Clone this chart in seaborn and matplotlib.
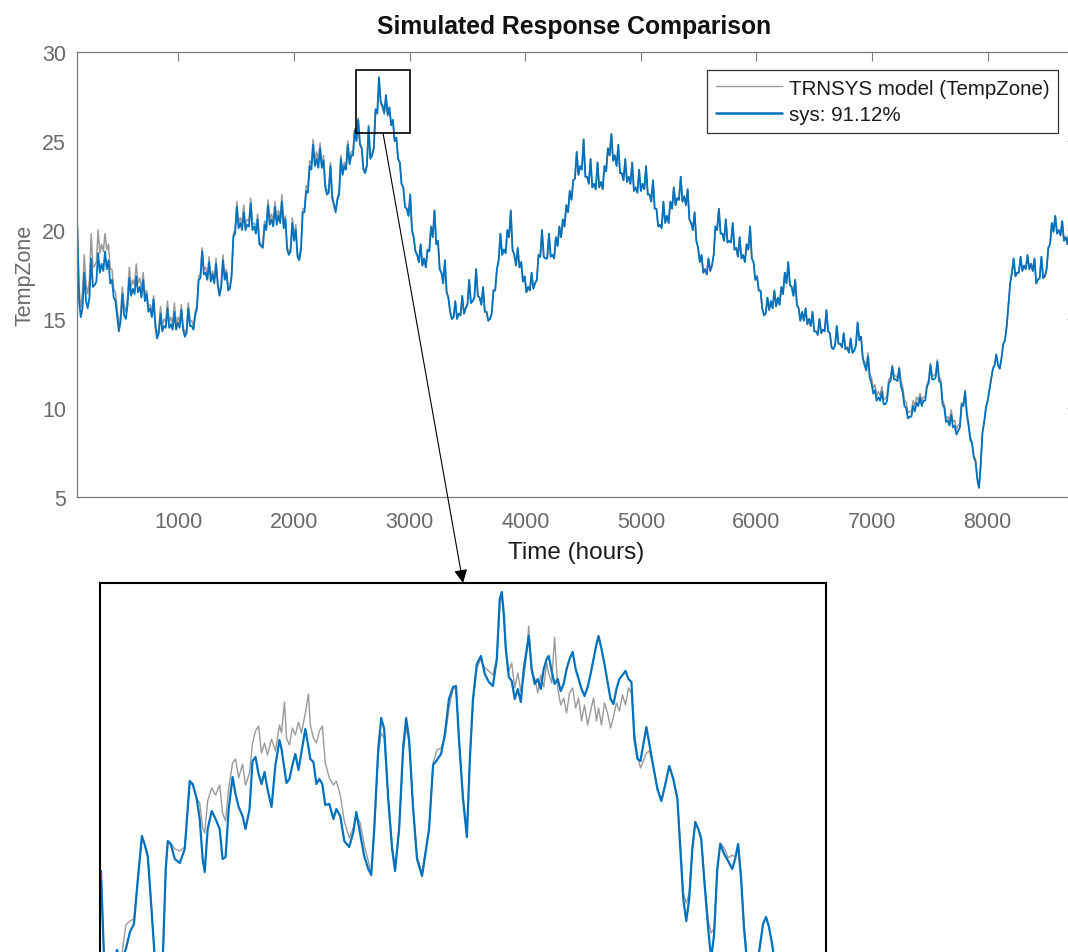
import numpy as np
import pandas as pd
import matplotlib
matplotlib.use("Agg")
import matplotlib.pyplot as plt
from matplotlib.patches import Rectangle
import seaborn as sns

# ---------------------------------------------------------------------------
# Zone temperature over the year, one sample every 15 h starting at hour 125
# (20 samples = 300 h per row)
# ---------------------------------------------------------------------------
START_HOUR = 125
STEP_HOURS = 15

sys_temp = [
    20.2, 16.0, 15.1, 15.6, 17.6, 16.0, 15.6, 16.2, 18.4, 16.8, 16.9, 17.1, 18.7, 17.6, 18.1, 17.7, 18.8, 17.8, 18.3, 17.0,
    17.2, 16.2, 16.0, 15.1, 14.3, 14.9, 16.4, 15.2, 15.0, 15.8, 17.3, 16.3, 16.7, 16.4, 17.4, 16.5, 16.8, 16.2, 17.2, 16.0,
    16.4, 15.4, 15.6, 15.1, 16.1, 14.6, 13.9, 14.2, 15.3, 14.3, 14.6, 14.5, 15.6, 14.5, 14.7, 14.4, 15.4, 14.4, 14.8, 14.5,
    15.5, 14.4, 14.0, 14.2, 15.6, 14.6, 14.6, 14.4, 15.2, 15.6, 17.2, 17.3, 18.8, 17.5, 17.6, 17.2, 18.2, 17.1, 17.5, 17.0,
    18.1, 16.9, 16.3, 16.8, 18.3, 17.2, 17.6, 16.6, 16.7, 17.4, 19.6, 19.8, 21.3, 20.1, 20.4, 20.0, 21.0, 20.0, 20.3, 20.2,
    21.5, 20.0, 20.2, 19.8, 20.6, 19.2, 19.1, 19.0, 20.3, 20.0, 21.4, 20.3, 20.6, 20.2, 21.3, 20.3, 20.8, 20.4, 21.6, 20.1,
    20.6, 18.9, 18.6, 18.8, 20.4, 19.4, 20.0, 18.5, 18.3, 18.9, 21.0, 21.0, 22.2, 22.1, 23.6, 23.4, 24.8, 23.6, 24.0, 23.5,
    24.6, 23.5, 23.9, 22.4, 22.0, 22.1, 23.6, 21.8, 21.4, 21.0, 21.7, 22.0, 24.0, 23.1, 23.6, 23.4, 24.8, 23.7, 24.2, 24.2,
    25.6, 25.0, 26.2, 24.8, 24.6, 23.4, 23.2, 23.6, 25.8, 24.0, 24.2, 24.6, 26.8, 26.6, 28.6, 27.2, 27.0, 26.6, 27.6, 26.5,
    26.9, 25.9, 26.2, 25.0, 25.2, 24.0, 23.8, 22.6, 22.4, 21.3, 21.2, 20.8, 22.0, 20.0, 19.6, 18.8, 18.6, 18.2, 19.2, 18.0,
    18.4, 17.9, 18.9, 18.8, 20.2, 19.6, 21.1, 19.2, 19.4, 17.8, 17.6, 17.0, 18.3, 16.5, 16.2, 15.4, 15.0, 15.1, 16.0, 15.0,
    15.3, 15.2, 16.3, 15.3, 15.6, 15.8, 17.2, 15.9, 16.0, 16.2, 17.8, 16.3, 16.2, 15.8, 16.8, 15.4, 15.4, 14.9, 15.0, 15.3,
    16.6, 16.6, 17.8, 18.3, 19.8, 18.6, 18.9, 18.7, 20.0, 19.6, 21.1, 18.9, 18.6, 18.0, 19.0, 17.9, 18.2, 17.1, 17.4, 16.5,
    16.8, 16.6, 17.6, 16.7, 17.0, 17.2, 18.6, 18.5, 20.0, 18.5, 18.4, 18.4, 19.8, 18.5, 18.6, 18.4, 19.6, 19.1, 20.2, 19.6,
    20.6, 20.2, 21.4, 21.0, 22.2, 21.7, 22.8, 22.9, 24.4, 23.1, 23.6, 23.4, 25.1, 23.0, 23.0, 22.6, 24.0, 22.4, 22.6, 22.3,
    23.8, 22.4, 22.7, 22.3, 23.6, 23.3, 24.6, 24.2, 25.4, 23.9, 24.2, 23.6, 24.8, 23.2, 23.2, 22.8, 24.0, 22.7, 23.0, 22.6,
    23.8, 22.2, 22.4, 22.1, 23.4, 22.2, 22.6, 22.3, 23.6, 22.0, 22.0, 21.6, 22.8, 21.2, 21.2, 20.2, 20.3, 20.1, 21.6, 20.4,
    20.8, 20.4, 21.6, 21.2, 22.4, 21.4, 21.8, 21.7, 23.0, 21.6, 21.9, 21.4, 22.3, 20.6, 20.4, 20.0, 21.0, 19.4, 19.0, 18.2,
    18.6, 17.6, 17.8, 17.5, 18.4, 17.7, 18.0, 18.6, 20.2, 20.0, 21.2, 19.8, 19.8, 19.4, 20.6, 19.3, 19.4, 19.3, 20.4, 18.9,
    19.0, 18.5, 19.6, 18.4, 18.6, 18.2, 19.2, 18.9, 20.2, 18.4, 18.2, 17.2, 17.4, 16.6, 16.6, 15.6, 15.2, 15.3, 16.2, 15.5,
    16.0, 15.6, 16.6, 15.7, 16.2, 15.8, 16.8, 16.4, 17.6, 17.0, 18.2, 16.9, 16.8, 16.3, 17.2, 15.8, 15.6, 14.9, 15.4, 14.9,
    15.6, 14.7, 15.0, 14.6, 15.4, 14.3, 14.3, 14.1, 15.0, 14.2, 14.4, 14.3, 15.5, 14.3, 14.2, 13.4, 13.3, 13.5, 14.6, 13.6,
    13.6, 13.4, 14.2, 13.3, 13.4, 13.1, 13.9, 13.1, 13.2, 13.5, 14.8, 13.8, 14.0, 12.8, 12.4, 12.1, 12.9, 11.7, 11.4, 10.8,
    11.0, 10.4, 10.6, 10.4, 10.9, 10.2, 10.2, 10.4, 11.4, 11.5, 12.3, 11.6, 11.6, 11.5, 12.2, 11.2, 10.9, 10.1, 10.0, 9.4,
    9.5, 9.5, 10.1, 9.8, 10.3, 10.1, 10.6, 10.1, 10.4, 10.4, 11.2, 11.4, 12.4, 11.6, 11.6, 11.7, 12.6, 11.5, 11.4, 10.2,
    10.0, 9.2, 9.3, 9.0, 9.6, 8.9, 9.0, 8.5, 8.7, 8.9, 10.2, 10.1, 10.9, 9.6, 9.0, 8.2, 8.0, 7.2, 7.0, 6.0,
    5.5, 6.8, 8.6, 9.2, 10.0, 10.4, 11.0, 11.6, 12.2, 12.4, 13.0, 12.4, 12.2, 12.8, 13.6, 13.8, 14.6, 15.8, 17.0, 17.6,
    18.4, 17.4, 17.6, 17.6, 18.5, 17.7, 18.0, 17.8, 18.6, 17.8, 18.1, 17.7, 18.4, 17.0, 17.2, 17.3, 18.5, 17.3, 17.4, 17.8,
    19.0, 19.2, 20.4, 19.9, 20.8, 19.8, 20.0, 19.7, 20.5, 19.4, 19.6, 19.2, 19.9, 19.0, 19.2, 18.5, 18.6, 18.1, 18.4, 18.0,
]

# TRNSYS reference output: runs warmer during the first 2800 h and in late
# autumn; elsewhere it coincides with the identified model.
trnsys_spring = [
    20.4, 16.8, 15.6, 16.5, 18.6, 17.0, 16.4, 17.2, 19.8, 17.9, 18.0, 18.2, 20.0, 18.7, 19.2, 18.8, 19.8, 18.9, 19.2, 17.8,
    17.8, 16.7, 16.5, 15.6, 14.6, 15.3, 16.8, 15.7, 15.4, 16.3, 17.9, 16.8, 17.2, 16.9, 18.1, 17.0, 17.3, 16.7, 17.6, 16.3,
    16.6, 15.7, 15.8, 15.4, 16.3, 14.9, 14.0, 14.5, 15.7, 14.6, 15.0, 14.8, 16.0, 14.8, 15.1, 14.7, 15.9, 14.7, 15.1, 14.8,
    15.8, 14.6, 14.2, 14.4, 15.9, 14.9, 14.9, 14.6, 15.4, 15.8, 17.4, 17.5, 19.0, 17.8, 17.9, 17.4, 18.5, 17.3, 17.7, 17.2,
    18.4, 17.1, 16.4, 17.0, 18.6, 17.4, 17.8, 16.8, 16.8, 17.6, 19.8, 20.0, 21.6, 20.4, 20.7, 20.3, 21.4, 20.3, 20.6, 20.5,
    21.8, 20.3, 20.4, 20.1, 20.9, 19.4, 19.2, 19.2, 20.5, 20.3, 21.7, 20.6, 20.9, 20.5, 21.6, 20.6, 21.1, 20.7, 22.0, 20.4,
    20.8, 19.1, 18.7, 19.0, 20.7, 19.7, 20.3, 18.7, 18.4, 19.1, 21.2, 21.2, 22.5, 22.4, 23.9, 23.7, 25.1, 23.9, 24.4, 23.8,
    24.9, 23.7, 24.2, 22.6, 22.2, 22.3, 23.8, 22.0, 21.5, 21.2, 21.8, 22.2, 24.2, 23.3, 23.8, 23.6, 25.0, 23.9, 24.4, 24.4,
    25.7, 25.1, 26.3, 24.9, 24.7, 23.5, 23.3, 23.7, 25.9, 24.1, 24.3, 24.7, 26.7, 26.5, 28.4, 27.1, 26.9, 26.5, 27.4, 26.4,
]
trnsys_autumn = [
    13.6, 13.4, 14.2, 13.3, 13.4, 13.1, 13.9, 13.1, 13.2, 13.5, 14.8, 13.8, 14.0, 12.8, 12.6, 12.3, 13.1, 11.9, 11.7, 11.1,
    11.3, 10.7, 10.9, 10.7, 11.2, 10.5, 10.5, 10.7, 11.6, 11.7, 12.4, 11.8, 11.8, 11.7, 12.3, 11.5, 11.2, 10.4, 10.3, 9.7,
    9.8, 9.8, 10.4, 10.1, 10.6, 10.4, 10.8, 10.4, 10.6, 10.6, 11.3, 11.6, 12.5, 11.8, 11.8, 11.9, 12.7, 11.7, 11.6, 10.4,
    10.2, 9.4, 9.5, 9.3, 9.9, 9.2, 9.3, 8.8, 9.0, 9.1, 10.3, 10.2, 11.0, 9.8, 9.2, 8.4, 8.1, 7.3, 7.1, 6.1,
]
trnsys_temp = trnsys_spring + sys_temp[180:440] + trnsys_autumn + sys_temp[520:]

# ---------------------------------------------------------------------------
# Detailed view around the spring peak (hours 2537 - 3003)
# ---------------------------------------------------------------------------
zoom_hours = [
    2537.6, 2539.6, 2543.4, 2547.9, 2550.4, 2553.6, 2556.2, 2558.8, 2561.3, 2563.9,
    2565.8, 2567.7, 2569.6, 2572.2, 2575.4, 2577.3, 2579.2, 2580.5, 2582.4, 2585.0,
    2588.2, 2591.4, 2594.6, 2596.5, 2599.1, 2601.0, 2602.9, 2604.2, 2606.1, 2608.7,
    2611.2, 2613.8, 2615.7, 2617.6, 2619.6, 2622.1, 2624.0, 2626.0, 2628.5, 2630.4,
    2633.0, 2634.9, 2636.8, 2638.8, 2640.7, 2642.6, 2644.5, 2647.1, 2649.6, 2652.2,
    2653.5, 2655.4, 2656.7, 2658.6, 2660.5, 2662.4, 2664.4, 2666.3, 2668.8, 2670.8,
    2672.0, 2674.0, 2675.9, 2677.8, 2679.7, 2681.6, 2684.2, 2686.8, 2688.7, 2691.2,
    2693.8, 2697.0, 2699.6, 2701.5, 2704.0, 2706.6, 2709.2, 2711.1, 2713.0, 2715.6,
    2717.5, 2719.4, 2722.0, 2724.5, 2726.4, 2729.0, 2731.6, 2733.5, 2735.4, 2738.0,
    2740.5, 2743.7, 2746.3, 2748.2, 2750.8, 2753.3, 2755.9, 2758.4, 2761.0, 2763.6,
    2765.5, 2767.4, 2770.0, 2772.5, 2774.4, 2776.4, 2778.9, 2781.5, 2784.0, 2786.6,
    2789.2, 2791.7, 2793.6, 2794.9, 2796.2, 2797.5, 2799.4, 2801.3, 2803.2, 2805.2,
    2807.1, 2809.0, 2810.9, 2812.2, 2814.1, 2816.0, 2818.0, 2819.9, 2821.8, 2823.7,
    2825.0, 2826.9, 2828.8, 2830.8, 2832.7, 2834.6, 2836.5, 2838.4, 2840.4, 2842.3,
    2844.2, 2846.1, 2848.0, 2850.0, 2851.9, 2853.8, 2855.7, 2857.0, 2858.9, 2860.8,
    2862.8, 2864.7, 2866.6, 2868.5, 2870.4, 2872.4, 2874.3, 2876.2, 2878.1, 2880.0,
    2882.0, 2883.9, 2885.8, 2887.7, 2889.6, 2892.2, 2894.8, 2897.3, 2899.9, 2902.4,
    2905.0, 2907.6, 2909.5, 2911.4, 2913.3, 2915.2, 2917.2, 2919.1, 2921.0, 2922.9,
    2924.8, 2927.4, 2929.3, 2931.2, 2933.2, 2935.1, 2937.6, 2940.2, 2942.8, 2944.7,
    2946.6, 2948.5, 2950.4, 2953.0, 2956.2, 2959.4, 2962.6, 2964.5, 2966.4, 2968.4,
    2970.3, 2973.5,
]

zoom_sys = [
    26.12, 25.24, 24.99, 25.33, 25.22, 25.34, 25.51, 25.59, 26.04, 26.47,
    26.38, 26.26, 25.84, 25.24, 24.94, 25.24, 26.14, 26.42, 26.39, 26.24,
    26.20, 26.34, 27.02, 26.99, 26.84, 26.64, 26.24, 26.11, 26.54, 26.72,
    26.64, 26.54, 26.24, 26.26, 26.74, 27.06, 26.89, 26.76, 26.67, 26.54,
    26.74, 27.22, 27.26, 27.09, 26.99, 27.11, 26.94, 26.76, 27.18, 27.43,
    27.34, 27.14, 27.00, 27.04, 27.18, 27.29, 27.13, 27.31, 27.54, 27.36,
    27.24, 27.21, 26.99, 27.04, 26.99, 26.78, 26.79, 26.64, 26.74, 26.67,
    26.42, 26.36, 26.51, 26.71, 26.49, 26.27, 26.14, 26.08, 26.54, 27.34,
    27.65, 27.54, 26.84, 26.34, 26.12, 26.54, 27.36, 27.65, 27.44, 26.74,
    26.24, 26.07, 26.34, 26.54, 27.18, 27.23, 27.29, 27.49, 27.84, 27.96,
    27.97, 27.44, 26.84, 26.46, 27.24, 27.84, 28.19, 28.27, 28.09, 28.01,
    27.97, 28.24, 28.84, 28.91, 28.69, 28.34, 28.06, 28.02, 27.84, 27.94,
    27.81, 28.14, 28.34, 28.47, 28.14, 27.99, 28.04, 27.94, 28.14, 28.24,
    28.27, 28.12, 27.99, 28.04, 27.92, 27.99, 28.14, 28.24, 28.31, 28.14,
    28.04, 27.94, 27.87, 27.96, 28.09, 28.24, 28.39, 28.47, 28.34, 28.19,
    28.01, 27.84, 27.79, 27.94, 28.04, 28.08, 28.12, 28.04, 28.01, 27.44,
    27.24, 27.22, 27.39, 27.56, 27.39, 27.16, 26.94, 26.82, 26.99, 27.17,
    27.04, 26.84, 26.34, 25.84, 25.62, 25.84, 26.34, 26.61, 26.54, 26.44,
    26.04, 25.54, 25.24, 25.49, 26.14, 26.39, 26.29, 26.22, 26.14, 26.24,
    26.39, 26.04, 25.54, 25.09, 24.94, 25.24, 25.59, 25.66, 25.56, 25.39,
    25.19, 24.99,
]

zoom_trnsys = [
    26.12, 25.24, 24.99, 25.33, 25.22, 25.58, 25.62, 25.64, 26.04, 26.45,
    26.38, 26.28, 25.86, 25.24, 24.94, 25.24, 26.12, 26.40, 26.40, 26.34,
    26.32, 26.36, 26.98, 26.99, 26.84, 26.80, 26.55, 26.50, 26.82, 26.95,
    26.88, 26.98, 26.70, 26.62, 26.95, 27.20, 27.24, 27.05, 27.19, 26.98,
    27.10, 27.40, 27.52, 27.57, 27.30, 27.40, 27.28, 27.44, 27.32, 27.58,
    27.50, 27.81, 27.45, 27.38, 27.55, 27.48, 27.61, 27.50, 27.70, 27.89,
    27.58, 27.45, 27.40, 27.52, 27.57, 27.20, 27.05, 26.98, 27.02, 26.88,
    26.62, 26.45, 26.55, 26.68, 26.60, 26.38, 26.22, 26.10, 26.50, 27.28,
    27.50, 27.45, 26.86, 26.38, 26.16, 26.54, 27.30, 27.55, 27.40, 26.76,
    26.26, 26.10, 26.34, 26.52, 27.20, 27.33, 27.35, 27.45, 27.75, 27.94,
    27.95, 27.46, 26.88, 26.52, 27.22, 27.80, 28.15, 28.24, 28.15, 28.12,
    28.08, 28.24, 28.80, 28.88, 28.65, 28.30, 28.12, 28.20, 27.95, 28.10,
    27.92, 28.05, 28.30, 28.57, 28.10, 28.05, 27.90, 28.08, 27.96, 28.20,
    28.10, 28.00, 28.46, 27.95, 27.78, 27.85, 27.70, 27.90, 27.95, 27.75,
    27.85, 27.62, 27.78, 27.58, 27.72, 27.85, 27.62, 27.75, 27.58, 27.80,
    27.70, 27.55, 27.66, 27.80, 27.72, 27.88, 27.78, 27.95, 27.90, 27.50,
    27.28, 27.15, 27.22, 27.30, 27.32, 27.17, 26.94, 26.82, 26.99, 27.17,
    27.04, 26.86, 26.40, 25.90, 25.80, 25.90, 26.36, 26.60, 26.54, 26.46,
    26.08, 25.62, 25.50, 25.55, 26.12, 26.40, 26.35, 26.25, 26.28, 26.26,
    26.39, 26.08, 25.58, 25.15, 24.96, 25.24, 25.59, 25.66, 25.56, 25.39,
    25.19, 24.99,
]

# Zoom window drawn on the yearly axes (hours, degC)
zoom_x = (2537, 3003)
zoom_y = (25.45, 29.0)

series_labels = ["TRNSYS model (TempZone)", "sys: 91.12%"]
x_ticks = [1000, 2000, 3000, 4000, 5000, 6000, 7000, 8000]
y_ticks = [5, 10, 15, 20, 25, 30]

SYS_BLUE = "#0072BD"
TRN_GRAY = "#9a9a9a"
AXIS_GRAY = "#7a7a7a"
LABEL_GRAY = "#6a6a6a"

# ---------------------------------------------------------------------------
sns.set_theme(style="white")
plt.rcParams["font.family"] = ["Liberation Sans", "DejaVu Sans"]

sys_year = pd.DataFrame({
    "hour": START_HOUR + STEP_HOURS * np.arange(len(sys_temp)),
    "temp": sys_temp,
})
trn_year = pd.DataFrame({
    "hour": START_HOUR + STEP_HOURS * np.arange(len(trnsys_temp)),
    "temp": trnsys_temp,
})
detail = pd.DataFrame({"hour": zoom_hours, "sys": zoom_sys, "trnsys": zoom_trnsys})

W, H = 1068, 953
fig = plt.figure(figsize=(W / 100, H / 100), dpi=100)


def fig_rect(left_px, top_px, right_px, bottom_px):
    return [left_px / W, 1 - bottom_px / H, (right_px - left_px) / W, (bottom_px - top_px) / H]


# ---- yearly comparison ------------------------------------------------------
ax = fig.add_axes(fig_rect(77.3, 53.3, 1075.5, 497.7))
sns.lineplot(data=trn_year, x="hour", y="temp", ax=ax, color=TRN_GRAY, lw=1.1,
             sort=False, estimator=None, label=series_labels[0])
sns.lineplot(data=sys_year, x="hour", y="temp", ax=ax, color=SYS_BLUE, lw=1.3,
             sort=False, estimator=None, label=series_labels[1])

ax.set_xlim(125, 8760)
ax.set_ylim(5, 30)
ax.set_xticks(x_ticks)
ax.set_yticks(y_ticks)
ax.tick_params(direction="in", length=6.8, width=0.8, top=True, right=True,
               color=AXIS_GRAY, labelcolor=LABEL_GRAY, labelsize=15.5)
ax.tick_params(axis="x", pad=10)
ax.tick_params(axis="y", pad=8)
for sp in ax.spines.values():
    sp.set_color(AXIS_GRAY)
    sp.set_linewidth(0.9)

ax.set_xlabel("Time (hours)", fontsize=17.5, color="#1a1a1a", labelpad=7)
ax.set_ylabel("TempZone", fontsize=15.5, color=LABEL_GRAY, labelpad=5)
ax.set_title("Simulated Response Comparison", fontsize=17.8, fontweight="bold",
             color="#111111", pad=14, x=0.4977)

leg = ax.legend(loc="upper right", bbox_to_anchor=(0.9825, 0.9602), borderaxespad=0,
                fontsize=14.8, frameon=True, fancybox=False, framealpha=1,
                edgecolor="#333333", handlelength=3.2, handletextpad=0.35,
                borderpad=0.42, labelspacing=0.38)
leg.get_frame().set_linewidth(0.9)
for txt in leg.get_texts():
    txt.set_color("#1a1a1a")
leg.get_lines()[0].set_linewidth(1.0)
leg.get_lines()[1].set_linewidth(1.8)

ax.add_patch(Rectangle((zoom_x[0], zoom_y[0]), zoom_x[1] - zoom_x[0], zoom_y[1] - zoom_y[0],
                       fill=False, edgecolor="black", lw=1.2, zorder=6))

# ---- detailed view ----------------------------------------------------------
ax_in = fig.add_axes(fig_rect(100, 584, 826, 1084))
sns.lineplot(data=detail, x="hour", y="trnsys", ax=ax_in, color=TRN_GRAY, lw=1.0,
             sort=False, estimator=None, legend=False)
sns.lineplot(data=detail, x="hour", y="sys", ax=ax_in, color=SYS_BLUE, lw=1.6,
             sort=False, estimator=None, legend=False)
ax_in.set_xlim(*zoom_x)
ax_in.set_ylim(24.0, 29.0)
ax_in.set_xticks([])
ax_in.set_yticks([])
ax_in.set_xlabel("")
ax_in.set_ylabel("")
for sp in ax_in.spines.values():
    sp.set_color("black")
    sp.set_linewidth(1.5)

ax.annotate("", xy=(0.5, 1.0), xycoords=ax_in,
            xytext=(2770, zoom_y[0]), textcoords="data",
            arrowprops=dict(arrowstyle="-|>", color="black", lw=0.8,
                            mutation_scale=20, shrinkA=0, shrinkB=0),
            annotation_clip=False, zorder=7)

fig.savefig("out.png", dpi=100)
